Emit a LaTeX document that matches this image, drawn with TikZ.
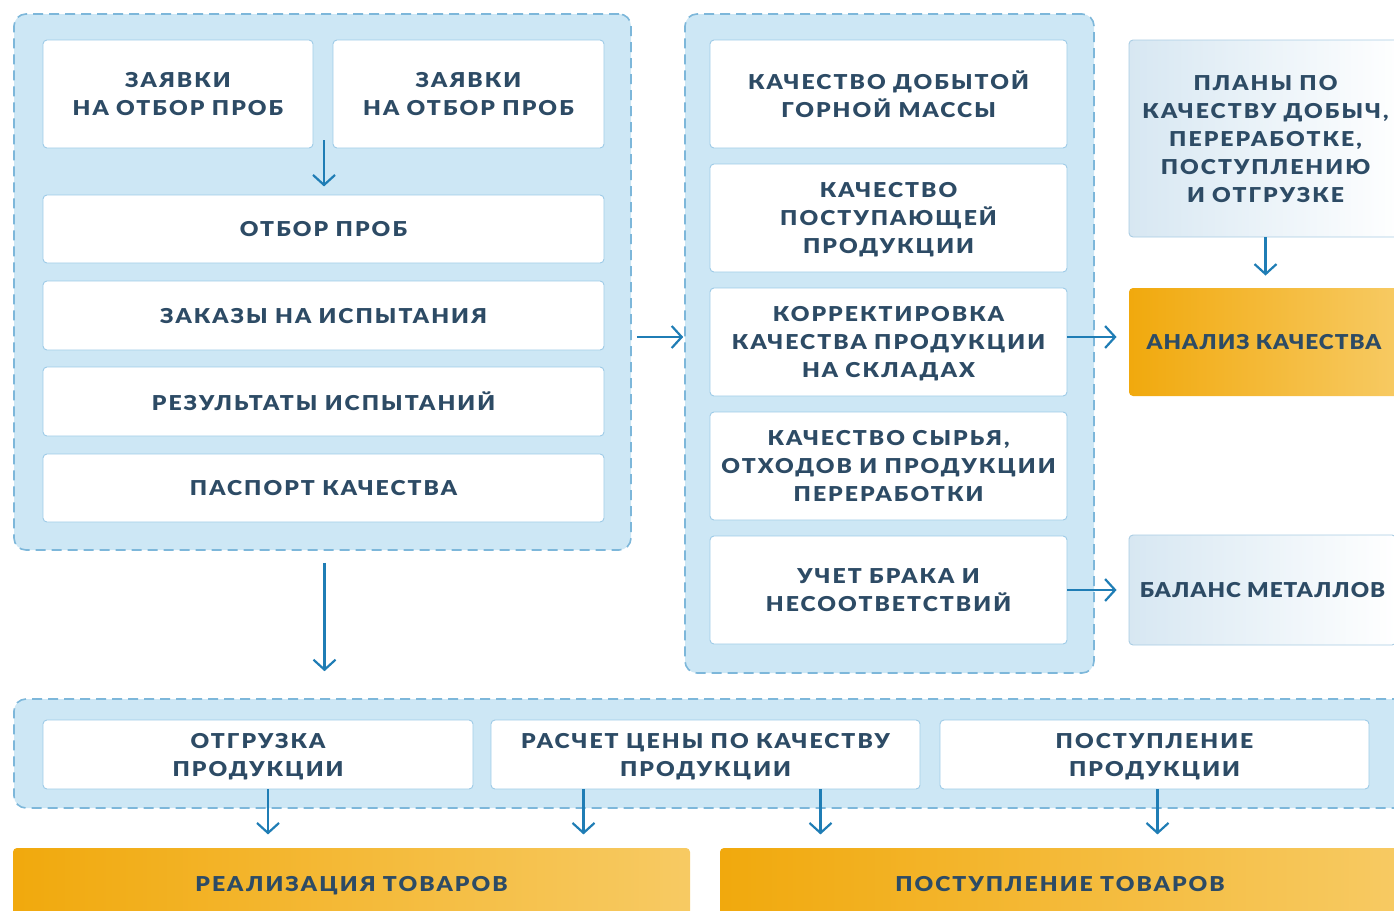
\documentclass[tikz,border=0pt]{standalone}
\usepackage{fontspec}
\setmainfont{Lato}
\newfontfamily\boxfont{Lato Black}[FakeStretch=1.12, LetterSpace=10]
\newfontfamily\tightfont{Lato Black}[FakeStretch=1.10, LetterSpace=5]
\usetikzlibrary{arrows.meta, calc, positioning}

\definecolor{groupfill}{HTML}{CDE7F5}
\definecolor{groupline}{HTML}{7DB7DA}
\definecolor{boxline}{HTML}{9DCBE7}
\definecolor{textcol}{HTML}{2D4B65}
\definecolor{arrcol}{HTML}{1F7DB5}
\definecolor{planl}{HTML}{D7E7F2}
\definecolor{planline}{HTML}{A9CCE3}
\definecolor{orl}{HTML}{F1A90D}
\definecolor{orr}{HTML}{F7CA63}

\tikzset{
  group/.style={draw=groupline, fill=groupfill, line width=1.6pt,
    dash pattern=on 10pt off 6pt, rounded corners=12pt, inner sep=0pt},
  box/.style={draw=boxline, line width=0.9pt, fill=white, rounded corners=4pt,
    align=center, text=textcol, inner sep=0pt, text depth=0pt,
    font=\boxfont\fontsize{20.5pt}{28pt}\selectfont},
  tight/.style={font=\tightfont\fontsize{20.5pt}{28pt}\selectfont},
  plan/.style={box, draw=planline, left color=planl, right color=white},
  goal/.style={box, draw=none, left color=orl, right color=orr},
  arr/.style={draw=arrcol, line width=2.2pt,
    -{Straight Barb[length=10pt, width=22pt]}},
}

\begin{document}
\begin{tikzpicture}[x=1pt, y=-1pt]
\useasboundingbox (0,0) rectangle (1394,910);
\clip (0,0) rectangle (1394,910);

% Groups
\node[group, minimum width=617pt, minimum height=536pt] (leftgroup) at (322.5, 282) {};
\node[group, minimum width=409pt, minimum height=659pt] (midgroup) at (889.5, 343.5) {};
\node[group, minimum width=1400pt, minimum height=109pt] (bottomgroup) at (714, 753.5) {};

% Left group
\node[box, minimum width=270pt, minimum height=108pt] (zayavka1) at (178, 94) {ЗАЯВКИ\\НА ОТБОР ПРОБ};
\node[box, minimum width=271pt, minimum height=108pt] (zayavka2) at (468.5, 94) {ЗАЯВКИ\\НА ОТБОР ПРОБ};
\node[box, minimum width=561pt, minimum height=68pt] (otbor) at (323.5, 229) {ОТБОР ПРОБ};
\node[box, minimum width=561pt, minimum height=69pt] (zakazy) at (323.5, 315.5) {ЗАКАЗЫ НА ИСПЫТАНИЯ};
\node[box, minimum width=561pt, minimum height=69pt] (rezultaty) at (323.5, 401.5) {РЕЗУЛЬТАТЫ ИСПЫТАНИЙ};
\node[box, minimum width=561pt, minimum height=68pt] (pasport) at (323.5, 488) {ПАСПОРТ КАЧЕСТВА};

% Middle group
\node[box, minimum width=357pt, minimum height=108pt] (dobyta) at (888.5, 94) {КАЧЕСТВО ДОБЫТОЙ\\ГОРНОЙ МАССЫ};
\node[box, minimum width=357pt, minimum height=108pt] (postup) at (888.5, 218) {КАЧЕСТВО\\ПОСТУПАЮЩЕЙ\\ПРОДУКЦИИ};
\node[box, minimum width=357pt, minimum height=108pt] (korr) at (888.5, 342) {КОРРЕКТИРОВКА\\КАЧЕСТВА ПРОДУКЦИИ\\НА СКЛАДАХ};
\node[box, minimum width=357pt, minimum height=108pt] (syrie) at (888.5, 466) {КАЧЕСТВО СЫРЬЯ,\\ОТХОДОВ И ПРОДУКЦИИ\\ПЕРЕРАБОТКИ};
\node[box, minimum width=357pt, minimum height=108pt] (uchet) at (888.5, 590) {УЧЕТ БРАКА И\\НЕСООТВЕТСТВИЙ};

% Right column
\node[plan, minimum width=273pt, minimum height=197pt] (plans) at (1265.5, 138.5) {ПЛАНЫ ПО\\КАЧЕСТВУ ДОБЫЧ,\\ПЕРЕРАБОТКЕ,\\ПОСТУПЛЕНИЮ\\И ОТГРУЗКЕ};
\node[goal, tight, minimum width=270pt, minimum height=108pt] (analiz) at (1264, 342) {АНАЛИЗ КАЧЕСТВА};
\node[plan, tight, minimum width=267pt, minimum height=110pt] (balans) at (1262.5, 590) {БАЛАНС МЕТАЛЛОВ};

% Bottom group
\node[box, minimum width=430pt, minimum height=69pt] (otgruzka) at (258, 754.5) {ОТГРУЗКА\\ПРОДУКЦИИ};
\node[box, minimum width=429pt, minimum height=69pt] (raschet) at (705.5, 754.5) {РАСЧЕТ ЦЕНЫ ПО КАЧЕСТВУ\\ПРОДУКЦИИ};
\node[box, minimum width=429pt, minimum height=69pt] (postuplenie) at (1154.5, 754.5) {ПОСТУПЛЕНИЕ\\ПРОДУКЦИИ};

% Goods
\node[goal, minimum width=677pt, minimum height=72pt] (realiz) at (351.5, 884) {РЕАЛИЗАЦИЯ ТОВАРОВ};
\node[goal, minimum width=680pt, minimum height=72pt] (posttov) at (1060, 884) {ПОСТУПЛЕНИЕ ТОВАРОВ};

% Arrows
\draw[arr] ($(zayavka1.south east)!.5!(zayavka2.south west)+(1,-8)$) -- ++(0,46);
\draw[arr] ($(leftgroup.east |- korr.west)+(5,-5)$) -- ($(midgroup.west |- korr.west)+(-1,-5)$);
\draw[arr] ($(leftgroup.south)+(2,12)$) -- ($(leftgroup.south |- bottomgroup.north)+(2,-27)$);
\draw[arr] ([yshift=5pt]korr.east) -- ([shift={(-12pt,5pt)}]analiz.west);
\draw[arr] (uchet.east) -- ([xshift=-12pt]balans.west);
\draw[arr, shorten >=12pt] (plans.south) -- (plans.south |- analiz.north);
\draw[arr] ($(otgruzka.south)+(10,0)$) -- ++(0,45);
\draw[arr] ($(raschet.south)+(-122,0)$) -- ++(0,45);
\draw[arr] ($(raschet.south)+(115,0)$) -- ++(0,45);
\draw[arr] ($(postuplenie.south)+(3,0)$) -- ++(0,45);

\end{tikzpicture}
\end{document}
